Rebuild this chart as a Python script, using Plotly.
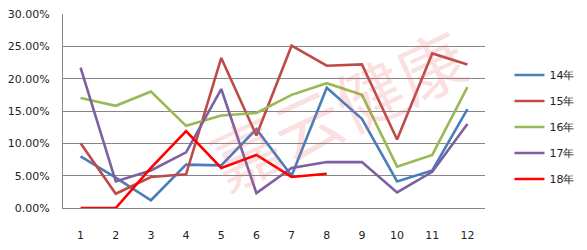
import plotly.graph_objects as go

months = [str(i) for i in range(1, 13)]
s14 = [8.0, 4.7, 1.2, 6.7, 6.6, 12.2, 5.0, 18.6, 13.8, 4.1, 5.8, 15.3]
s15 = [10.0, 2.2, 4.8, 5.2, 23.2, 11.2, 25.1, 22.0, 22.2, 10.6, 23.9, 22.2]
s16 = [17.0, 15.8, 18.0, 12.7, 14.3, 14.7, 17.5, 19.3, 17.5, 6.4, 8.2, 18.7]
s17 = [21.7, 4.1, 5.8, 8.6, 18.4, 2.3, 6.2, 7.1, 7.1, 2.4, 5.6, 13.0]
s18 = [0.0, 0.0, 6.2, 11.9, 6.2, 8.2, 4.8, 5.3]
names = ["14年", "15年", "16年", "17年", "18年"]
series = [s14, s15, s16, s17, s18]
colors = ["#4a7ebb", "#be4b48", "#98b954", "#7d60a0", "#ff0000"]
yticks = [0, 5, 10, 15, 20, 25, 30]
ytext = ["0.00%", "5.00%", "10.00%", "15.00%", "20.00%", "25.00%", "30.00%"]

fig = go.Figure()
for n, s, c in zip(names, series, colors):
    fig.add_trace(go.Scatter(
        x=months[:len(s)], y=s, name=n, mode="lines",
        line=dict(color=c, width=2.6), legendgroup=n,
    ))

fig.add_annotation(
    text="嘉云健康", xref="paper", yref="paper", x=0.65, y=0.52,
    showarrow=False, textangle=-25,
    font=dict(size=68, color="rgba(228,100,100,0.2)", family="Noto Sans CJK SC"),
)

fig.update_layout(
    width=587, height=250,
    margin=dict(l=62, r=89, t=8, b=39),
    paper_bgcolor="white", plot_bgcolor="white",
    font=dict(family="DejaVu Sans, Arial", size=11, color="#222"),
    xaxis=dict(
        type="category", range=[-0.5, 11.5], showgrid=False,
        showline=True, linecolor="#868686", linewidth=1,
        ticks="", ticklabelstandoff=17, tickfont=dict(size=11),
    ),
    yaxis=dict(
        range=[0, 30], tickvals=yticks, ticktext=ytext,
        showgrid=True, gridcolor="#868686", gridwidth=1,
        showline=True, linecolor="#868686", linewidth=1,
        zeroline=False, ticks="", ticklabelstandoff=10,
        tickfont=dict(size=11),
    ),
    legend=dict(
        x=1.058, y=0.76, xanchor="left", yanchor="top",
        font=dict(size=11), tracegroupgap=7,
        bgcolor="rgba(0,0,0,0)",
    ),
    showlegend=True,
)

fig.write_html("out.html")
